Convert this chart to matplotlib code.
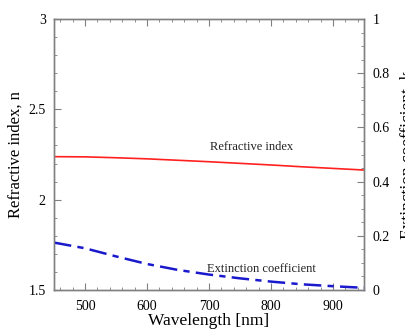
import numpy as np
import matplotlib.pyplot as plt
from matplotlib.ticker import MultipleLocator

plt.rcParams['font.family'] = ['Liberation Serif', 'DejaVu Serif']

# values
wavelength = [450, 500, 550, 600, 650, 700, 750, 800, 850, 900, 950]
n_values = [2.238, 2.237, 2.232, 2.226, 2.218, 2.210, 2.201, 2.192, 2.182, 2.173, 2.164]
k_values = [0.175, 0.154, 0.124, 0.096, 0.074, 0.057, 0.043, 0.031, 0.021, 0.014, 0.008]

fig = plt.figure(figsize=(4.06, 3.29), dpi=100)
ax = fig.add_axes([54/406, 1 - 290/329, 310/406, 271/329])
ax2 = ax.twinx()

ax.plot(wavelength, n_values, color='#ff2020', linewidth=1.2)
ax2.plot(wavelength, k_values, color='#1a1acc', linewidth=1.8, dashes=(7, 2.5, 2.5, 2.5))

ax.set_xlim(450, 950)
ax.set_ylim(1.5, 3)
ax2.set_ylim(0, 1)

ax.xaxis.set_major_locator(MultipleLocator(100))
ax.xaxis.set_minor_locator(MultipleLocator(20))
ax.yaxis.set_major_locator(MultipleLocator(0.5))
ax.yaxis.set_minor_locator(MultipleLocator(0.1))
ax2.yaxis.set_major_locator(MultipleLocator(0.2))
ax2.yaxis.set_minor_locator(MultipleLocator(0.05))
ax.yaxis.set_major_formatter(plt.FuncFormatter(lambda v, p: '%g' % v))
ax2.yaxis.set_major_formatter(plt.FuncFormatter(lambda v, p: '%g' % v))

grey = '#808080'
for a in (ax, ax2):
    for s in a.spines.values():
        s.set_color(grey)
        s.set_linewidth(1.0)
ax.tick_params(axis='x', which='both', direction='in', top=True, color=grey, labelsize=10, pad=7)
ax.tick_params(axis='y', which='both', direction='in', right=False, color=grey, labelsize=10, pad=6)
ax.tick_params(which='major', length=5)
ax.tick_params(which='minor', length=2.5)
ax2.tick_params(axis='y', which='both', direction='in', color=grey, labelsize=10, pad=6)
ax2.tick_params(which='major', length=5)
ax2.tick_params(which='minor', length=2.5)

ax.set_xlabel('Wavelength [nm]', fontsize=12.5)
ax.xaxis.set_label_coords(0.5, -0.084)
ax.set_ylabel('Refractive index, n', fontsize=12)
ax.yaxis.set_label_coords(-0.097, 0.5)
ax2.set_ylabel('Extinction coefficient, k', fontsize=12.5, labelpad=7)

ax.text(701, 2.275, 'Refractive index', fontsize=9, color='#222222')
ax2.text(696, 0.065, 'Extinction coefficient', fontsize=9, color='#222222')

fig.savefig('out.png', dpi=100)
